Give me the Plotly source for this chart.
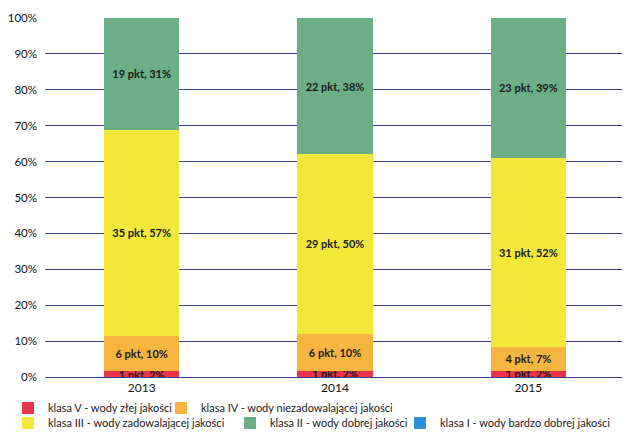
import plotly.graph_objects as go

years = ["2013", "2014", "2015"]
klasa_v = [1, 1, 1]
klasa_iv = [6, 6, 4]
klasa_iii = [35, 29, 31]
klasa_ii = [19, 22, 23]
klasa_i = [0, 0, 0]

labels_v = ["1 pkt, 2%", "1 pkt, 2%", "1 pkt, 2%"]
labels_iv = ["6 pkt, 10%", "6 pkt, 10%", "4 pkt, 7%"]
labels_iii = ["35 pkt, 57%", "29 pkt, 50%", "31 pkt, 52%"]
labels_ii = ["19 pkt, 31%", "22 pkt, 38%", "23 pkt, 39%"]
labels_i = ["", "", ""]

names = [
    "klasa V - wody złej jakości",
    "klasa IV - wody niezadowalającej jakości",
    "klasa III - wody zadowalającej jakości",
    "klasa II - wody dobrej jakości",
    "klasa I - wody bardzo dobrej jakości",
]
colors = ["#e8334a", "#f5b53f", "#f3e83a", "#6cae86", "#2d8fd8"]
series = [klasa_v, klasa_iv, klasa_iii, klasa_ii, klasa_i]
texts = [labels_v, labels_iv, labels_iii, labels_ii, labels_i]
legend_ids = ["legend", "legend2", "legend3", "legend4", "legend5"]

# the page body has an 8px margin, so the figure is sized to fit the window
W, H = 622, 424
# legend placement in figure pixels: (x from left, y-centre from top)
legend_px = [(0, 400), (153, 400), (0, 415), (222, 415), (392, 415)]

fig = go.Figure()
for name, vals, txt, col, lg in zip(names, series, texts, colors, legend_ids):
    fig.add_trace(go.Bar(
        x=years, y=vals, name=name, text=txt,
        marker=dict(color=col, line=dict(width=0)),
        textposition="inside", insidetextanchor="middle",
        textfont=dict(family="Lato", size=11, color="#1a1a1a"),
        texttemplate="<b>%{text}</b>",
        legend=lg,
    ))

legend_layout = {}
for lg, (px, py) in zip(legend_ids, legend_px):
    legend_layout[lg] = dict(
        orientation="h", x=px / W, xanchor="left", y=1 - py / H, yanchor="middle",
        xref="container", yref="container",
        font=dict(family="Lato", size=11, color="#1a1a1a"),
        itemwidth=30, bgcolor="rgba(0,0,0,0)", borderwidth=0,
    )

fig.update_layout(
    barmode="stack",
    barnorm="percent",
    bargap=0.61,
    width=W, height=H,
    margin=dict(l=37, r=5, t=10, b=55, autoexpand=False),
    paper_bgcolor="white", plot_bgcolor="white",
    font=dict(family="Lato", size=11, color="#222"),
    uniformtext=dict(mode="show", minsize=11),
    showlegend=True,
    **legend_layout,
)
fig.update_yaxes(range=[0, 100], tickvals=list(range(0, 101, 10)),
                 ticktext=[f"{v}%" for v in range(0, 101, 10)],
                 showgrid=True, gridcolor="#3d4080", gridwidth=1,
                 zeroline=False, showline=False,
                 tickfont=dict(family="Lato", size=11.5, color="#111"),
                 ticks="", ticklabelstandoff=7)
fig.update_xaxes(showgrid=False, showline=True, linecolor="#3d4080",
                 tickfont=dict(family="Lato", size=12, color="#111"),
                 ticklabelstandoff=0)

fig.write_html("out.html")
